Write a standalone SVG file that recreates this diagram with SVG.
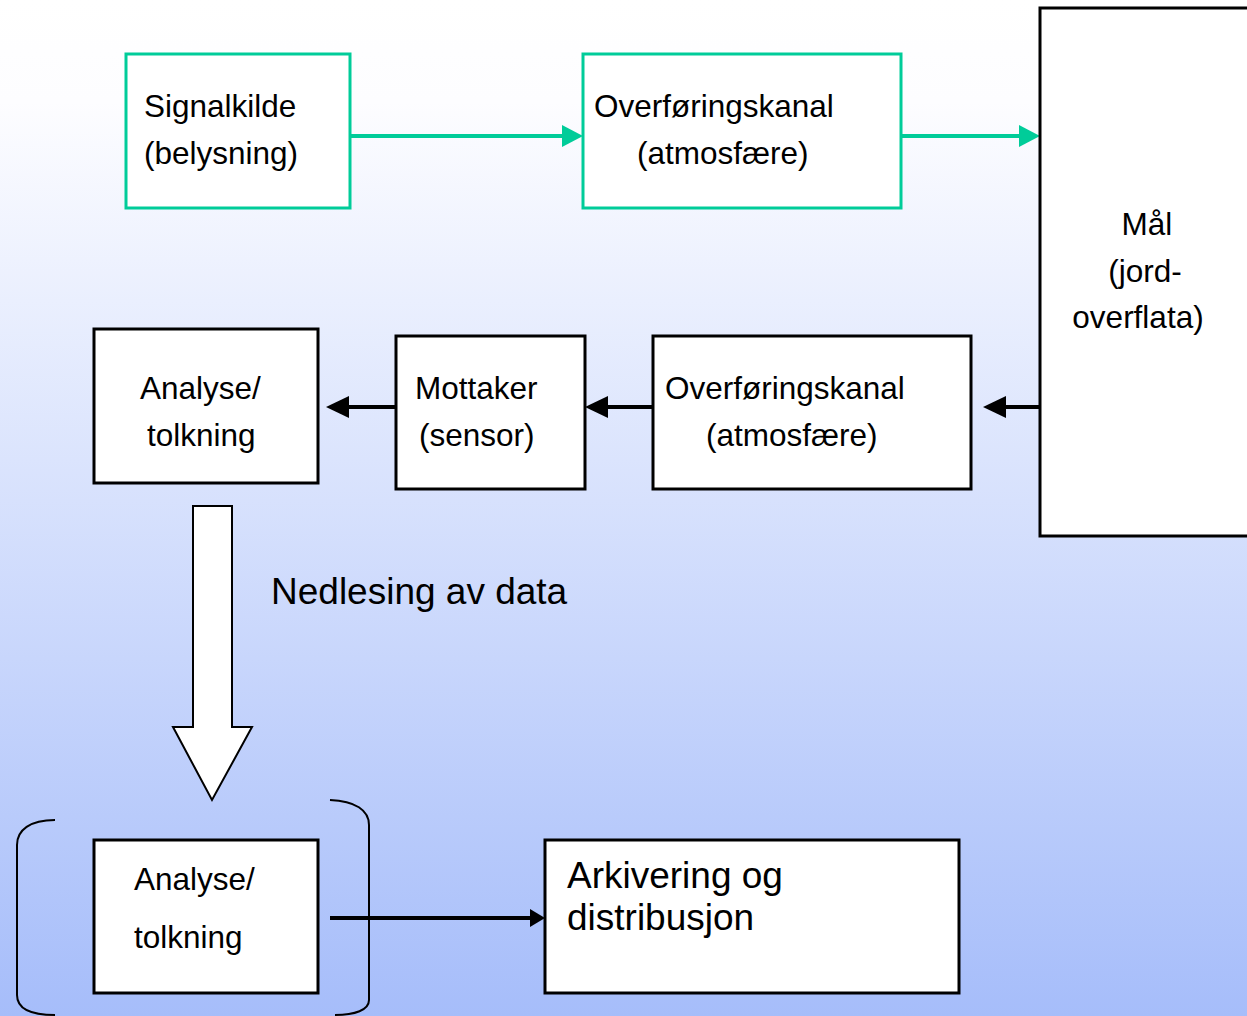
<svg xmlns="http://www.w3.org/2000/svg" width="1247" height="1016" viewBox="0 0 1247 1016">
<defs>
<linearGradient id="bg" x1="0" y1="0" x2="0" y2="1">
<stop offset="0" stop-color="#ffffff"/>
<stop offset="0.1" stop-color="#fdfdff"/>
<stop offset="1" stop-color="#a6bdfa"/>
</linearGradient>
</defs>
<style>
.g{fill:#fff;stroke:#00cc99;stroke-width:3}
.b{fill:#fff;stroke:#000;stroke-width:3}
.t{font-family:"Liberation Sans",Arial,sans-serif;font-size:31.5px;fill:#000}
.L{font-size:37px}
.cg{stroke:#00cc99;stroke-width:4;fill:none}
.cb{stroke:#000;stroke-width:4;fill:none}
</style>
<rect width="1247" height="1016" fill="url(#bg)"/>

<g id="connectors">
<line class="cg" x1="350" y1="136" x2="570" y2="136"/>
<path d="M562,125 L583,136 L562,147 Z" fill="#00cc99"/>
<line class="cg" x1="901" y1="136" x2="1025" y2="136"/>
<path d="M1019,125 L1040,136 L1019,147 Z" fill="#00cc99"/>
<line class="cb" x1="1040" y1="407" x2="1000" y2="407"/>
<path d="M1006,396 L983,407 L1006,418 Z"/>
<line class="cb" x1="653" y1="407" x2="600" y2="407"/>
<path d="M608,396 L585,407 L608,418 Z"/>
<line class="cb" x1="396" y1="407" x2="345" y2="407"/>
<path d="M349,396 L326,407 L349,418 Z"/>
<line class="cb" x1="330" y1="918" x2="532" y2="918"/>
<path d="M530,909 L545,918 L530,927 Z"/>
<path d="M193,506 L232,506 L232,727 L252,727 L212,800 L173,727 L193,727 Z" fill="#fff" stroke="#000" stroke-width="2"/>
<text class="t L" x="271" y="604">Nedlesing av data</text>
<path d="M55,820 C30,820 17,830 17,845 L17,995 C17,1008 30,1015 55,1015" fill="none" stroke="#000" stroke-width="2"/>
<path d="M330,800 C355,801 369,810 369,825 L369,1000 C369,1010 355,1015 335,1015" fill="none" stroke="#000" stroke-width="2"/>
</g>

<g id="signalkilde">
<rect class="g" x="126" y="54" width="224" height="154"/>
<text class="t" x="144" y="117">Signalkilde</text>
<text class="t" x="144" y="164">(belysning)</text>
</g>

<g id="overforing1">
<rect class="g" x="583" y="54" width="318" height="154"/>
<text class="t" x="594" y="117">Overføringskanal</text>
<text class="t" x="637" y="164">(atmosfære)</text>
</g>

<g id="maal">
<rect class="b" x="1040" y="8" width="220" height="528"/>
<text class="t" x="1147" y="235" text-anchor="middle">Mål</text>
<text class="t" x="1145" y="282" text-anchor="middle">(jord-</text>
<text class="t" x="1138" y="328" text-anchor="middle">overflata)</text>
</g>

<g id="overforing2">
<rect class="b" x="653" y="336" width="318" height="153"/>
<text class="t" x="665" y="399">Overføringskanal</text>
<text class="t" x="706" y="446">(atmosfære)</text>
</g>

<g id="mottaker">
<rect class="b" x="396" y="336" width="189" height="153"/>
<text class="t" x="415" y="399">Mottaker</text>
<text class="t" x="419" y="446">(sensor)</text>
</g>

<g id="analyse1">
<rect class="b" x="94" y="329" width="224" height="154"/>
<text class="t" x="140" y="399">Analyse/</text>
<text class="t" x="147" y="446">tolkning</text>
</g>

<g id="analyse2">
<rect class="b" x="94" y="840" width="224" height="153"/>
<text class="t" x="134" y="890">Analyse/</text>
<text class="t" x="134" y="948">tolkning</text>
</g>

<g id="arkivering">
<rect class="b" x="545" y="840" width="414" height="153"/>
<text class="t L" x="567" y="888">Arkivering og</text>
<text class="t L" x="567" y="930">distribusjon</text>
</g>
</svg>
